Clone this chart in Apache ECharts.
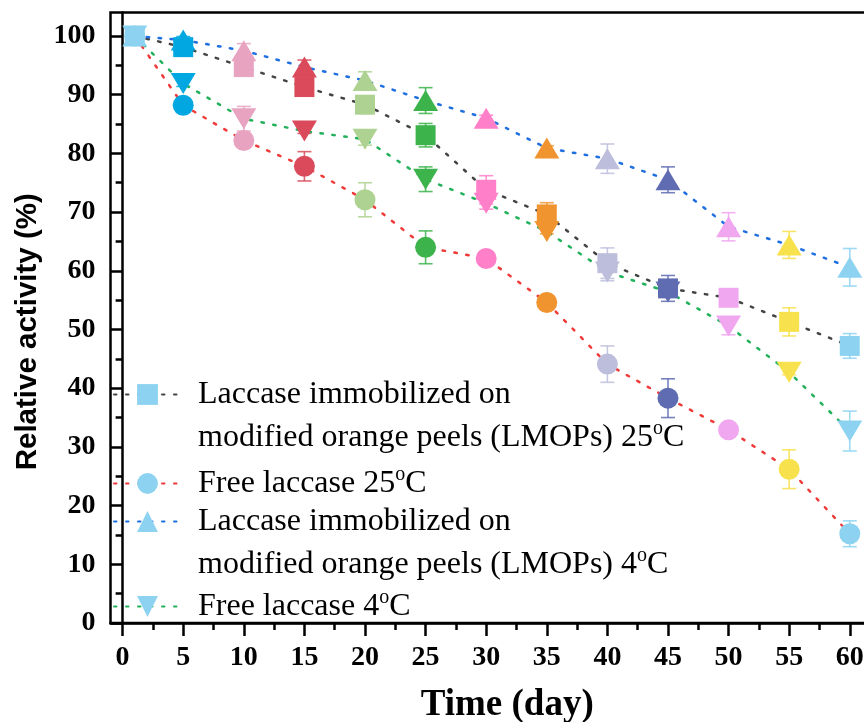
<!DOCTYPE html>
<html>
<head>
<meta charset="utf-8">
<script src="https://cdn.jsdelivr.net/npm/echarts@6/dist/echarts.min.js"></script>
<style>
  html, body { margin: 0; padding: 0; background: #fff; }
  #chart { width: 864px; height: 722px; }
</style>
</head>
<body>
<div id="chart"></div>
<script>
  // 时间 (day)
  var days = [1, 5, 10, 15, 20, 25, 30, 35, 40, 45, 50, 55, 60]
  var xTicks = [0, 5, 10, 15, 20, 25, 30, 35, 40, 45, 50, 55, 60]
  var xMinorTicks = [2.5, 7.5, 12.5, 17.5, 22.5, 27.5, 32.5, 37.5, 42.5, 47.5, 52.5, 57.5]
  var yTicks = [0, 10, 20, 30, 40, 50, 60, 70, 80, 90, 100]
  var yMinorTicks = [5, 15, 25, 35, 45, 55, 65, 75, 85, 95]

  var seriesNames = [
    'Laccase immobilized on modified orange peels (LMOPs) 25°C',
    'Free laccase 25°C',
    'Laccase immobilized on modified orange peels (LMOPs) 4°C',
    'Free laccase 4°C'
  ]
  // 相对活性 (%)
  var lmops25 = [100, 98.1, 94.7, 91.3, 88.3, 83.1, 73.8, 69.6, 61.3, 57.0, 55.4, 51.3, 47.2]
  var lmops25Err = [0, 0.6, 1.2, 1.2, 1.5, 2.0, 2.4, 2.0, 2.6, 2.2, 0.6, 2.4, 2.1]
  var free25 = [100, 88.2, 82.2, 77.8, 72.1, 64.0, 62.1, 54.6, 44.1, 38.3, 32.9, 26.2, 15.2]
  var free25Err = [0, 0.5, 1.0, 2.5, 2.9, 2.8, 0.5, 0.6, 3.1, 3.3, 0.5, 3.3, 2.2]
  var lmops4 = [100, 99.3, 97.5, 94.7, 92.4, 89.0, 86.0, 80.9, 79.1, 75.5, 67.5, 64.4, 60.6]
  var lmops4Err = [0, 0.6, 1.2, 1.2, 1.5, 2.2, 0.5, 0.4, 2.5, 2.2, 2.4, 2.3, 3.2]
  var free4 = [100, 91.9, 85.9, 83.8, 82.4, 75.6, 71.5, 66.7, 59.8, 56.4, 50.6, 42.7, 32.7]
  var free4Err = [0, 0.5, 2.1, 0.4, 1.0, 2.1, 1.0, 0.4, 1.5, 0.6, 1.5, 0.4, 3.4]

  // 每个点的颜色
  var pointColors = ['#8dd3f1', '#00a7e1', '#e8a3c1', '#da4a5b', '#aed291', '#3cb44b', '#ff80c9',
    '#f0942f', '#bdbedc', '#5f6cb1', '#f1a6f0', '#f7e14c', '#8dd3f1']
  var lineColors = ['#444444', '#f03a3a', '#1f6fe0', '#23b25b']
  var downTri = 'path://M0,0 L20,0 L10,18 Z'

  var serif = 'Liberation Serif'

  function lineSeries(idx, values, symbol, size) {
    return {
      name: seriesNames[idx],
      type: 'line',
      symbol: symbol,
      symbolSize: size,
      data: values.map(function (v, i) {
        return { value: [days[i], v], itemStyle: { color: pointColors[i] } }
      }),
      itemStyle: { color: pointColors[0], opacity: 1 },
      lineStyle: { color: lineColors[idx], width: 2.5, type: [2.5, 9.5], cap: 'round' },
      z: 3
    }
  }

  // 误差棒
  var errData = []
  ;[[lmops25, lmops25Err], [free25, free25Err], [lmops4, lmops4Err], [free4, free4Err]].forEach(function (s) {
    s[0].forEach(function (v, i) {
      if (s[1][i] > 0) errData.push([days[i], v, s[1][i], i])
    })
  })

  function renderErr(params, api) {
    var x = api.value(0), y = api.value(1), e = api.value(2), ci = api.value(3)
    var top = api.coord([x, y + e])
    var bot = api.coord([x, y - e])
    var w = 7
    var style = { stroke: pointColors[ci], lineWidth: 1.6, opacity: 0.85 }
    return {
      type: 'group',
      children: [
        { type: 'line', shape: { x1: top[0], y1: top[1], x2: bot[0], y2: bot[1] }, style: style },
        { type: 'line', shape: { x1: top[0] - w, y1: top[1], x2: top[0] + w, y2: top[1] }, style: style },
        { type: 'line', shape: { x1: bot[0] - w, y1: bot[1], x2: bot[0] + w, y2: bot[1] }, style: style }
      ]
    }
  }

  function legendText(name) {
    return name.replace(' modified', '\nmodified').replace('°C', '{sup|o}C')
  }

  var legendTops = [373, 462, 500, 585]
  var legends = seriesNames.map(function (n, i) {
    return {
      data: [n],
      left: 113,
      top: legendTops[i],
      padding: 0,
      orient: 'vertical',
      itemWidth: 67,
      itemHeight: 26,
      selectedMode: false,
      formatter: legendText,
      textStyle: {
        fontFamily: serif, fontSize: 32, color: '#000', lineHeight: 43, height: 43,
        padding: [0, 0, 0, 12],
        rich: {
          sup: { fontFamily: serif, fontSize: 20, color: '#000', lineHeight: 26, height: 26, verticalAlign: 'top' }
        }
      }
    }
  })

  var labelFont = { fontFamily: serif, fontWeight: 'bold', fontSize: 28, color: '#000' }

  var myChart = echarts.init(document.getElementById('chart'))
  myChart.setOption({
    animation: false,
    backgroundColor: '#fff',
    legend: legends,
    grid: [
      { left: 110.5, right: -10, top: 12.5, bottom: 99, show: true, borderColor: '#000', borderWidth: 2.5,
        containLabel: false, outerBoundsMode: 'none' },
      { left: 110.5, right: -10, top: 12.5, bottom: 99, show: false, containLabel: false, outerBoundsMode: 'none' }
    ],
    xAxis: [
      {
        type: 'value', min: -1, max: 62, gridIndex: 0,
        axisLine: { lineStyle: { color: '#000', width: 2.5 } },
        axisTick: { customValues: xTicks, length: 13, lineStyle: { color: '#000', width: 2.5 } },
        axisLabel: Object.assign({ customValues: xTicks, margin: 21 }, labelFont),
        splitLine: { show: false },
        name: 'Time (day)', nameLocation: 'middle', nameGap: 64,
        nameTextStyle: { fontFamily: serif, fontWeight: 'bold', fontSize: 37, color: '#000', padding: [0, 0, 0, 30] }
      },
      {
        type: 'value', min: -1, max: 62, gridIndex: 1,
        axisLine: { show: false },
        axisTick: { customValues: xMinorTicks, length: 7, lineStyle: { color: '#000', width: 2.5 } },
        axisLabel: { show: false },
        splitLine: { show: false }
      }
    ],
    yAxis: [
      {
        type: 'value', min: 0, max: 104, gridIndex: 0,
        axisLine: { show: true, lineStyle: { color: '#000', width: 2.5 } },
        axisTick: { show: true, customValues: yTicks, length: 12, lineStyle: { color: '#000', width: 2.5 } },
        axisLabel: Object.assign({ customValues: yTicks, margin: 15 }, labelFont),
        splitLine: { show: false },
        name: 'Relative activity (%)', nameLocation: 'middle', nameGap: 67,
        nameTextStyle: { fontFamily: 'Liberation Sans', fontWeight: 'bold', fontSize: 29.5, color: '#000', padding: [0, 28, 0, 0] }
      },
      {
        type: 'value', min: 0, max: 104, gridIndex: 1,
        axisLine: { show: false },
        axisTick: { show: true, customValues: yMinorTicks, length: 7, lineStyle: { color: '#000', width: 2.5 } },
        axisLabel: { show: false },
        splitLine: { show: false }
      }
    ],
    series: [
      { type: 'custom', name: 'err', renderItem: renderErr, data: errData, silent: true, z: 1 },
      lineSeries(0, lmops25, 'rect', 20),
      lineSeries(1, free25, 'circle', 21),
      lineSeries(2, lmops4, 'triangle', [25, 21]),
      lineSeries(3, free4, downTri, [25, 21])
    ]
  })
</script>
</body>
</html>
